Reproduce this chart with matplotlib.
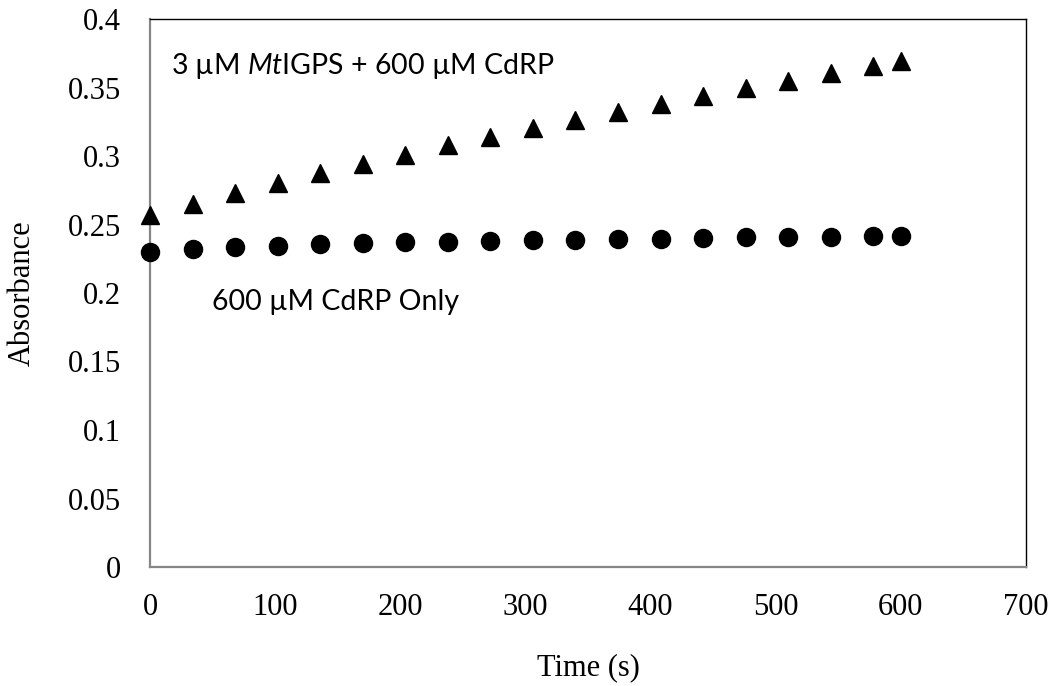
import matplotlib
matplotlib.use("Agg")
import matplotlib.pyplot as plt

time_s = [0, 34, 68, 102, 136, 170, 204, 238, 272, 306, 340, 374, 408, 442, 476, 510, 544, 578, 600]
enzyme_abs = [0.2572, 0.2651, 0.2730, 0.2800, 0.2875, 0.2943, 0.3010, 0.3077, 0.3139, 0.3202,
              0.3262, 0.3323, 0.3380, 0.3438, 0.3495, 0.3550, 0.3605, 0.3657, 0.3692]
cdrp_only_abs = [0.2302, 0.2324, 0.2338, 0.2345, 0.2355, 0.2363, 0.2370, 0.2375, 0.2380, 0.2385,
                 0.2387, 0.2394, 0.2397, 0.2401, 0.2406, 0.2409, 0.2411, 0.2416, 0.2418]
x_ticks = [0, 100, 200, 300, 400, 500, 600, 700]
y_ticks = [0, 0.05, 0.1, 0.15, 0.2, 0.25, 0.3, 0.35, 0.4]
y_tick_labels = ["0", "0.05", "0.1", "0.15", "0.2", "0.25", "0.3", "0.35", "0.4"]

plt.rcParams['mathtext.fontset'] = 'custom'
plt.rcParams['mathtext.rm'] = 'Lato'
plt.rcParams['mathtext.it'] = 'Lato:italic'

fig = plt.figure(figsize=(10.55, 6.86), dpi=100)
ax = fig.add_axes([150/1055, 1 - 567/686, (1026-150)/1055, (567-19)/686])

ax.plot(time_s, enzyme_abs, linestyle='none', marker='^', ms=13, color='black', clip_on=False, zorder=3)
ax.plot(time_s, cdrp_only_abs, linestyle='none', marker='o', ms=13, color='black', clip_on=False, zorder=3)

ax.set_xlim(0, 700)
ax.set_ylim(0, 0.4)
ax.set_xticks(x_ticks)
ax.set_yticks(y_ticks)
ax.set_yticklabels(y_tick_labels)

serif = 'Liberation Serif'
for lab in ax.get_xticklabels() + ax.get_yticklabels():
    lab.set_fontfamily(serif)
    lab.set_fontsize(22)
ax.tick_params(axis='x', length=0, pad=19)
ax.tick_params(axis='y', length=0, pad=21)

ax.set_xlabel('Time (s)', fontfamily=serif, fontsize=22, labelpad=22)
ax.set_ylabel('Absorbance', fontfamily=serif, fontsize=22, labelpad=22)

for side in ['left', 'bottom']:
    ax.spines[side].set_color('#868686')
    ax.spines[side].set_linewidth(1.6)
for side in ['top', 'right']:
    ax.spines[side].set_color('black')
    ax.spines[side].set_linewidth(1.0)

ax.text(17, 0.3655, r'3 µM $\mathit{Mt}$IGPS + 600 µM CdRP', fontfamily='Lato', fontsize=20.5,
        va='center', ha='left')
ax.text(49.5, 0.1937, '600 µM CdRP Only', fontfamily='Lato', fontsize=20.5, va='center', ha='left')

fig.savefig('out.png', dpi=100)
